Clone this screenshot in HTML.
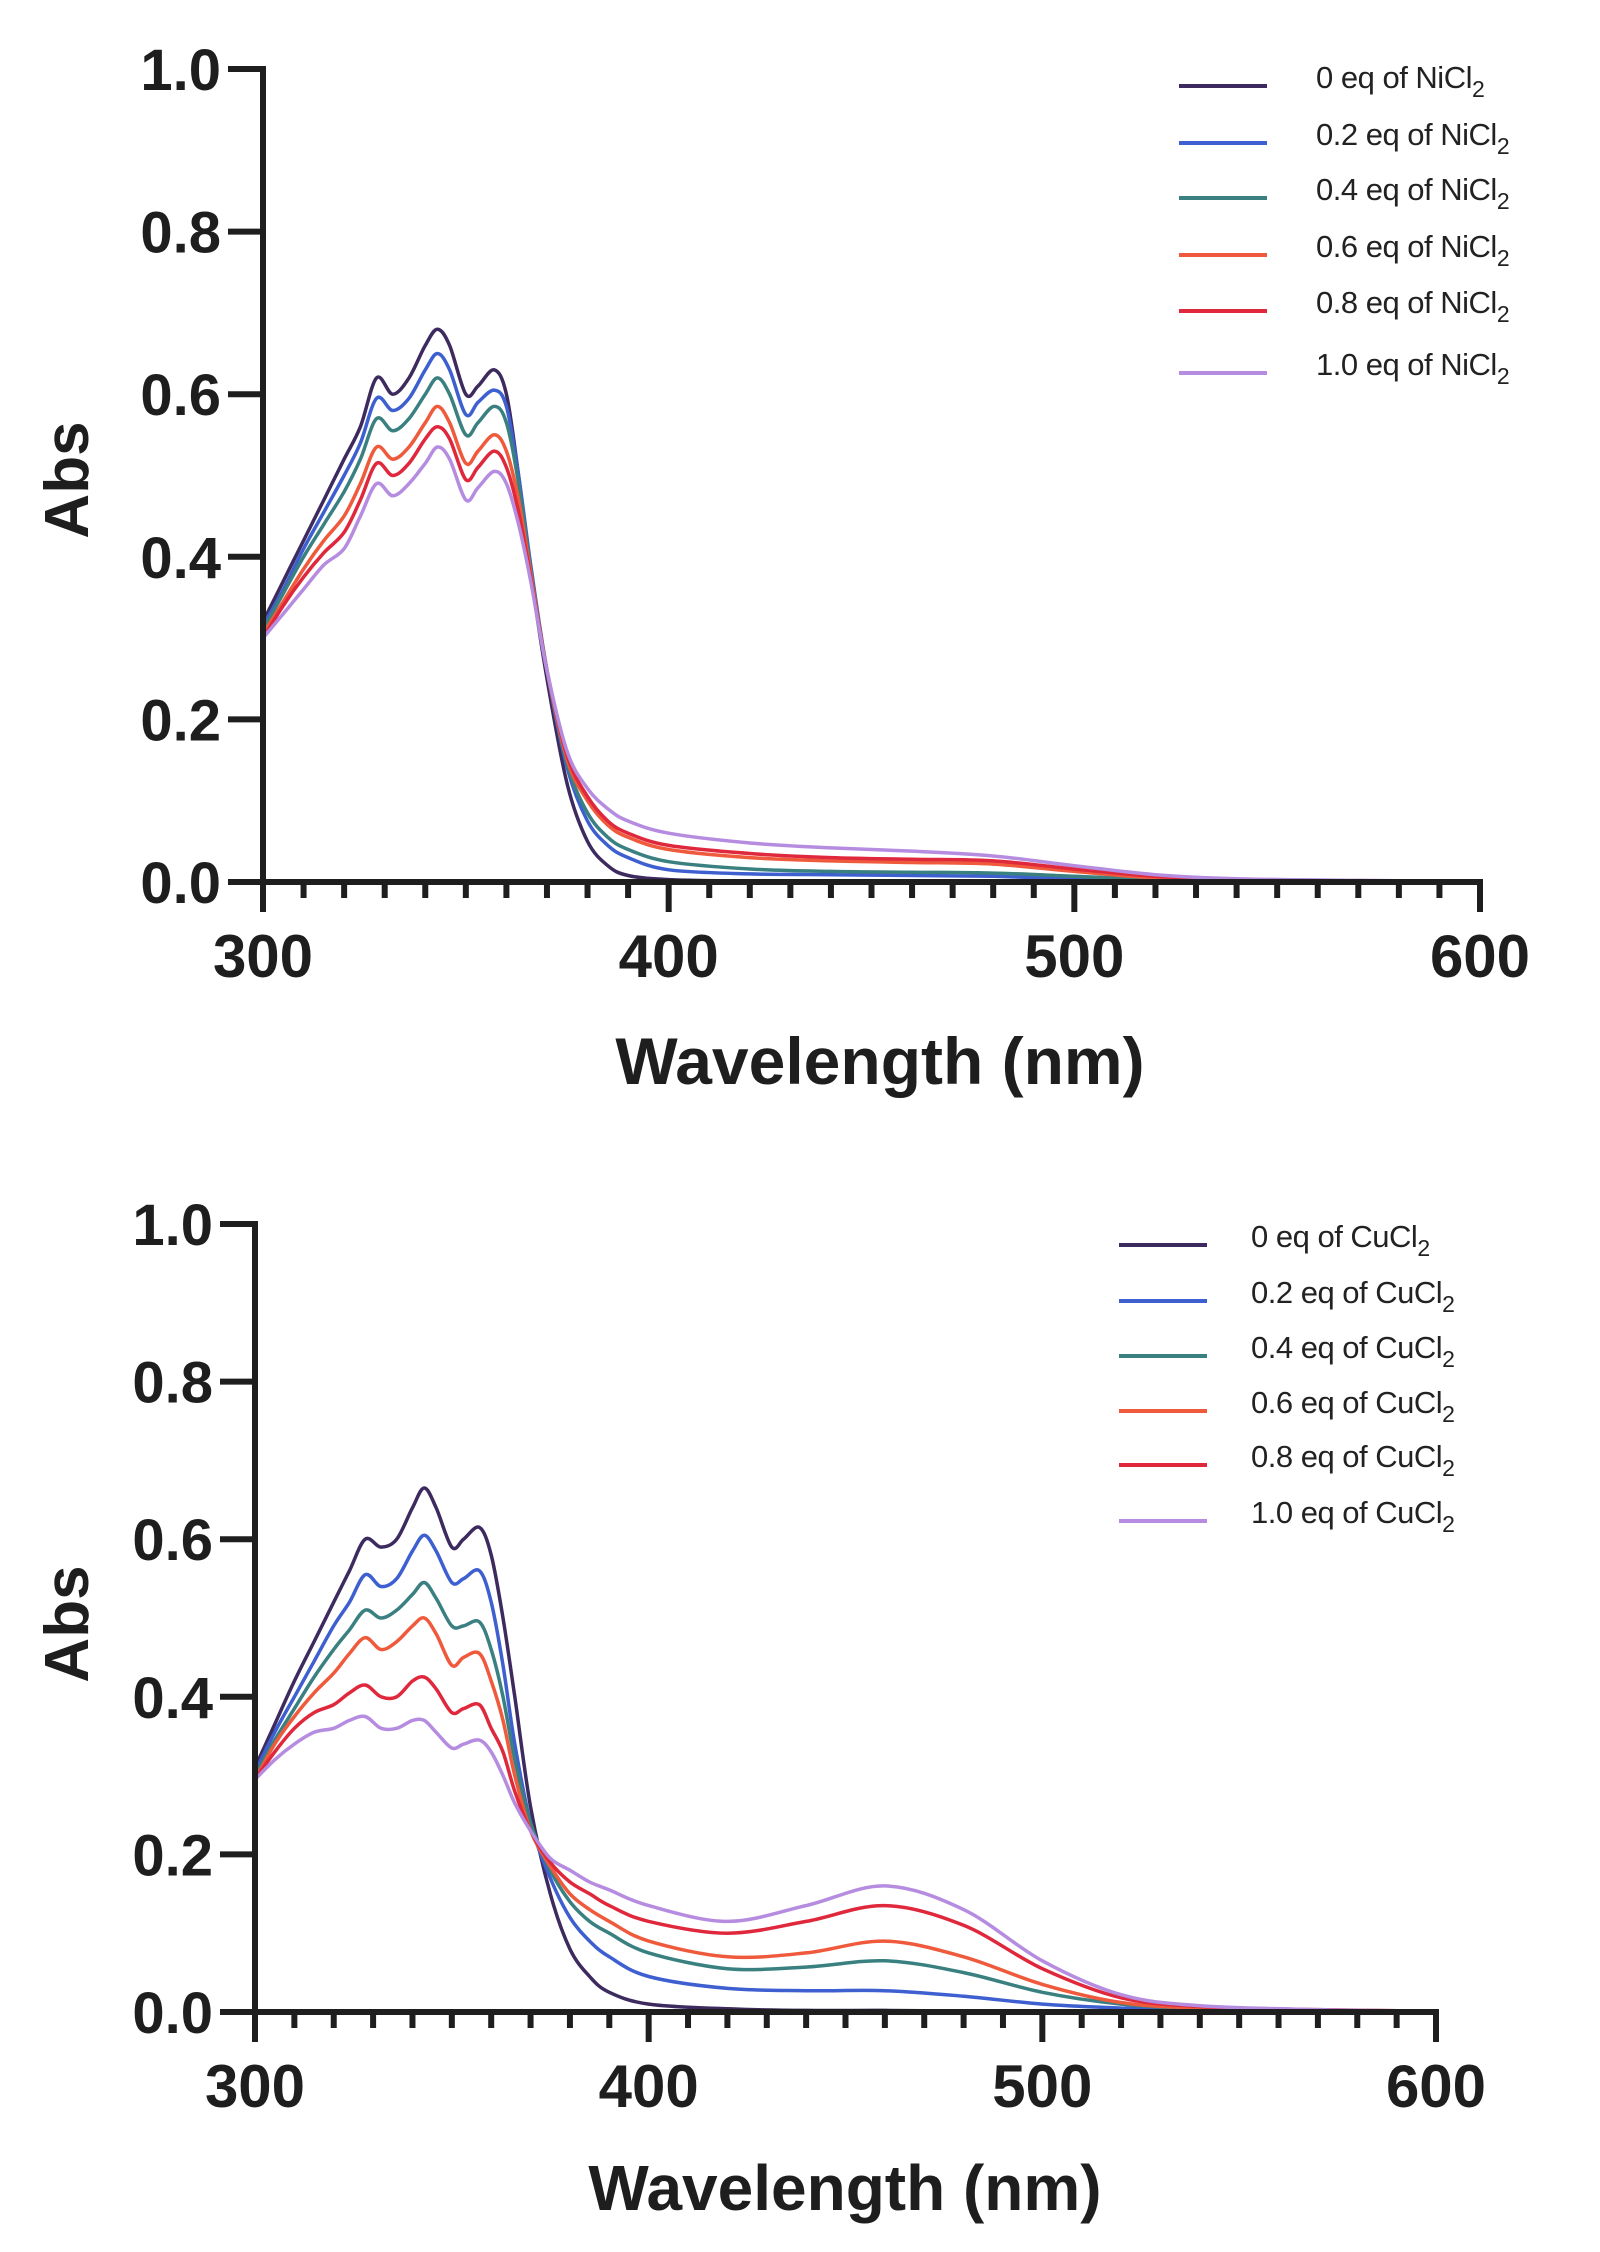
<!DOCTYPE html>
<html><head><meta charset="utf-8">
<style>
html,body{margin:0;padding:0;background:#fff;}
svg{display:block;}
text{font-family:"Liberation Sans",Arial,sans-serif;}
</style></head>
<body>
<svg id="fig" width="1600" height="2252" viewBox="0 0 1600 2252" xmlns="http://www.w3.org/2000/svg">
<rect width="1600" height="2252" fill="#fff"/>
<g id="top"></g>
<g id="bottom"></g>
</svg>
<script>
const wavelengths=[300,305,310,315,320,324,328,332,336,340,343,346,350,353,357,360,363,366,370,375,380,385,390,400,420,440,460,480,500,520,540,570,600];
const seriesLabels=["0 eq of ","0.2 eq of ","0.4 eq of ","0.6 eq of ","0.8 eq of ","1.0 eq of "];
const seriesColors=["#3d2a5e","#3d5fd0","#3a8080","#ef5a3c","#e0283c","#b58ce0"];
const xTicks=[300,400,500,600];
const yTicks=[0,0.2,0.4,0.6,0.8,1.0];
const yTickLabels=["0.0","0.2","0.4","0.6","0.8","1.0"];
const ni0=[.32,.37,.42,.47,.52,.56,.62,.60,.62,.66,.68,.66,.60,.61,.63,.60,.50,.38,.25,.12,.05,.02,.008,.003,.001,.001,.001,.001,0,0,0,0,0];
const ni2=[.315,.36,.41,.455,.50,.54,.595,.58,.595,.63,.65,.63,.575,.59,.605,.585,.50,.39,.26,.14,.075,.045,.03,.015,.01,.009,.008,.007,.004,.002,.001,0,0];
const ni4=[.31,.355,.40,.44,.48,.52,.57,.555,.57,.60,.62,.60,.55,.565,.585,.565,.49,.385,.26,.145,.085,.055,.04,.025,.016,.013,.012,.011,.007,.003,.001,0,0];
const ni6=[.305,.345,.385,.42,.45,.49,.535,.52,.535,.565,.585,.565,.515,.53,.55,.53,.47,.38,.26,.15,.10,.07,.055,.04,.03,.026,.024,.022,.013,.005,.002,.001,0];
const ni8=[.30,.34,.375,.405,.43,.47,.515,.50,.515,.545,.56,.545,.495,.51,.53,.51,.455,.375,.26,.155,.105,.075,.06,.045,.035,.03,.028,.026,.016,.007,.003,.001,0];
const ni10=[.30,.33,.36,.39,.41,.45,.49,.475,.49,.515,.535,.52,.47,.485,.505,.49,.44,.37,.26,.16,.115,.09,.075,.06,.048,.042,.038,.032,.02,.009,.004,.002,.001];
const cu0=[.31,.365,.42,.47,.52,.56,.60,.59,.60,.64,.665,.64,.59,.60,.615,.58,.50,.40,.26,.15,.08,.045,.025,.01,.004,.002,.002,.001,0,0,0,0,0];
const cu2=[.305,.355,.40,.445,.49,.52,.555,.54,.55,.585,.605,.585,.545,.55,.56,.52,.44,.34,.24,.17,.12,.09,.07,.045,.03,.027,.027,.02,.01,.005,.002,.001,0];
const cu4=[.30,.345,.385,.425,.46,.485,.51,.50,.51,.53,.545,.525,.49,.49,.495,.46,.40,.32,.24,.18,.14,.115,.10,.075,.055,.057,.065,.05,.025,.01,.004,.002,.001];
const cu6=[.295,.34,.375,.405,.43,.455,.475,.46,.47,.49,.50,.48,.44,.45,.455,.42,.37,.30,.23,.185,.15,.13,.115,.09,.07,.075,.09,.07,.035,.012,.005,.002,.001];
const cu8=[.295,.33,.36,.38,.39,.405,.415,.40,.40,.42,.425,.41,.38,.385,.39,.36,.33,.28,.23,.19,.165,.15,.135,.115,.10,.115,.135,.11,.055,.018,.007,.003,.001];
const cu10=[.295,.32,.34,.355,.36,.37,.375,.36,.36,.37,.37,.355,.335,.34,.345,.33,.30,.265,.23,.195,.18,.165,.155,.135,.115,.135,.16,.13,.065,.022,.008,.003,.001];

const NS="http://www.w3.org/2000/svg";
function mk(parent,tag,attrs){const e=document.createElementNS(NS,tag);for(const k in attrs)e.setAttribute(k,attrs[k]);parent.appendChild(e);return e;}

function drawChart(g,cfg,series,metal){
  const X0=cfg.X0,X1=cfg.X1,Y0=cfg.Y0,Y1=cfg.Y1;
  const sx=w=>X0+(w-300)/300*(X1-X0);
  const sy=v=>Y0-v*(Y0-Y1);
  series.forEach((vals,i)=>{
    const pts=wavelengths.map((w,j)=>[sx(w),sy(vals[j])]);
    let d="M"+pts[0][0].toFixed(1)+","+pts[0][1].toFixed(1);
    for(let j=0;j<pts.length-1;j++){
      const p0=pts[Math.max(0,j-1)],p1=pts[j],p2=pts[j+1],p3=pts[Math.min(pts.length-1,j+2)];
      const c1=[p1[0]+(p2[0]-p0[0])/6,p1[1]+(p2[1]-p0[1])/6];
      const c2=[p2[0]-(p3[0]-p1[0])/6,p2[1]-(p3[1]-p1[1])/6];
      d+=" C"+c1[0].toFixed(1)+","+c1[1].toFixed(1)+" "+c2[0].toFixed(1)+","+c2[1].toFixed(1)+" "+p2[0].toFixed(1)+","+p2[1].toFixed(1);
    }
    const p=mk(g,"path",{d:d,fill:"none",stroke:seriesColors[i],"stroke-width":3.5,"stroke-linejoin":"round"});
    
    
  });
  const ax=mk(g,"g",{stroke:"#1e1e1e","stroke-width":6,fill:"none"});
  
  
  mk(ax,"line",{x1:X0,y1:Y1-3,x2:X0,y2:Y0+30});
  mk(ax,"line",{x1:X0-35,y1:Y0,x2:X1+3,y2:Y0});
  for(let w=310;w<=600;w+=10){
    const major=(w%100===0);
    mk(ax,"line",{x1:sx(w),y1:Y0,x2:sx(w),y2:Y0+(major?30:16)});
  }
  yTicks.forEach(v=>{mk(ax,"line",{x1:X0-35,y1:sy(v),x2:X0,y2:sy(v)});});
  xTicks.forEach(w=>{
    const t=mk(g,"text",{x:sx(w),y:Y0+95,"text-anchor":"middle","font-size":60,"font-weight":"bold",fill:"#1e1e1e"});
    t.textContent=w;
    
    
  });
  yTicks.forEach((v,i)=>{
    const t=mk(g,"text",{x:X0-42,y:sy(v)+21,"text-anchor":"end","font-size":58,"font-weight":"bold",fill:"#1e1e1e"});
    t.textContent=yTickLabels[i];
    
    
  });
  const xt=mk(g,"text",{x:cfg.xtx,y:cfg.xty,"text-anchor":"middle","font-size":cfg.xts,"font-weight":"bold",fill:"#1e1e1e"});
  xt.textContent="Wavelength (nm)";
  
  
  const yt=mk(g,"text",{x:0,y:0,"text-anchor":"middle","font-size":62,"font-weight":"bold",fill:"#1e1e1e",transform:"translate(88,"+cfg.yty+") rotate(-90)"});
  yt.textContent="Abs";
  
  
  const lg=mk(g,"g",{});
  
  
  seriesLabels.forEach((lab,i)=>{
    const y=cfg.legY[i];
    const e=mk(lg,"g",{});
    
    
    mk(e,"line",{x1:cfg.legX,y1:y,x2:cfg.legX+88,y2:y,stroke:seriesColors[i],"stroke-width":4});
    const t=mk(e,"text",{x:cfg.legX+cfg.legT,y:y+2,"font-size":31,fill:"#222","letter-spacing":"-0.5"});
    t.textContent=lab+metal+"Cl";
    const s=mk(t,"tspan",{dy:9,"font-size":23});
    s.textContent="2";
  });
}
drawChart(document.getElementById("top"),{X0:263,X1:1480,Y0:882,Y1:69,xtx:880,xty:1084,xts:66,yty:480,legX:1179,legT:137,legY:[86,143,198,255,311,373]},[ni0,ni2,ni4,ni6,ni8,ni10],"Ni");
drawChart(document.getElementById("bottom"),{X0:255,X1:1436,Y0:2012,Y1:1224,xtx:845,xty:2210,xts:64,yty:1624,legX:1119,legT:132,legY:[1245,1301,1356,1411,1465,1521]},[cu0,cu2,cu4,cu6,cu8,cu10],"Cu");
</script>
</body></html>
